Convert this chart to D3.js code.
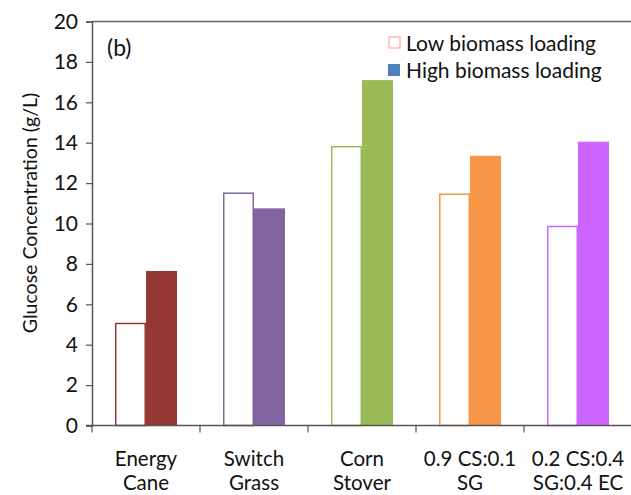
<!DOCTYPE html>
<html>
<head>
<meta charset="utf-8">
<script src="https://cdn.jsdelivr.net/npm/d3@7"></script>
<style>
  body { margin: 0; background: #fff; }
  svg text { font-family: Lato, "Open Sans", sans-serif; fill: #111; }
</style>
</head>
<body>
<svg id="chart" width="631" height="495"></svg>
<script>
// categories and values
const categories = [
  ["Energy", "Cane"],
  ["Switch", "Grass"],
  ["Corn", "Stover"],
  ["0.9 CS:0.1", "SG"],
  ["0.2 CS:0.4", "SG:0.4 EC"]
];
const lowLoading = [5.05, 11.5, 13.8, 11.45, 9.85];
const highLoading = [7.65, 10.75, 17.1, 13.35, 14.05];
const barColors = ["#953735", "#8064a2", "#9bbb59", "#f79646", "#cc66ff"];
const yTicks = [0, 2, 4, 6, 8, 10, 12, 14, 16, 18, 20];

const svg = d3.select('#chart');
const margin = { left: 92, top: 21.5, bottom: 425.5 };
const bandW = 108;

const x = d3.scaleBand()
    .domain(d3.range(categories.length))
    .range([margin.left, margin.left + bandW * categories.length])
    .paddingInner(0).paddingOuter(0);

const y = d3.scaleLinear()
    .domain([0, 20])
    .range([margin.bottom, margin.top]);

const barW = 31;

// top border line
svg.append('line')
    .attr('x1', margin.left).attr('x2', 631)
    .attr('y1', y(20)).attr('y2', y(20))
    .attr('stroke', '#666').attr('stroke-width', 1.5);

// bars
const g = svg.append('g');
categories.forEach((c, i) => {
    const cx = x(i) + x.bandwidth() / 2;
    g.append('rect')
        .attr('x', cx - barW + 0.75)
        .attr('y', y(lowLoading[i]))
        .attr('width', barW - 1.5)
        .attr('height', y(0) - y(lowLoading[i]))
        .attr('fill', '#fff')
        .attr('stroke', barColors[i])
        .attr('stroke-width', 1.5);
    g.append('rect')
        .attr('x', cx)
        .attr('y', y(highLoading[i]))
        .attr('width', barW)
        .attr('height', y(0) - y(highLoading[i]))
        .attr('fill', barColors[i]);
});

// y axis
const yAxis = svg.append('g')
    .attr('transform', `translate(${margin.left},0)`)
    .call(d3.axisLeft(y).tickValues(yTicks).tickSize(6).tickPadding(8));
yAxis.select('.domain').attr('stroke', '#555').attr('stroke-width', 1.5);
yAxis.selectAll('.tick line').attr('stroke', '#555').attr('stroke-width', 1.2);
yAxis.selectAll('.tick text')
    .style('font-size', '21px')
    .attr('fill', '#111');

// x axis: ticks at band boundaries
const xAxisG = svg.append('g');
xAxisG.append('line')
    .attr('x1', margin.left - 6).attr('x2', 631)
    .attr('y1', y(0)).attr('y2', y(0))
    .attr('stroke', '#555').attr('stroke-width', 1.5);
xAxisG.selectAll('line.tick')
    .data(d3.range(categories.length + 1))
    .enter().append('line')
    .attr('class', 'tick')
    .attr('x1', d => margin.left + d * x.step())
    .attr('x2', d => margin.left + d * x.step())
    .attr('y1', y(0)).attr('y2', y(0) + 7)
    .attr('stroke', '#555').attr('stroke-width', 1.2);

const labels = xAxisG.selectAll('text.cat')
    .data(categories)
    .enter().append('text')
    .attr('class', 'cat')
    .attr('text-anchor', 'middle')
    .style('font-size', '20.5px');
labels.each(function(d, i) {
    const t = d3.select(this);
    const cx = x(i) + x.bandwidth() / 2;
    d.forEach((line, j) => {
        t.append('tspan')
            .attr('x', cx)
            .attr('y', 466 + j * 24)
            .text(line);
    });
});

// y title
svg.append('text')
    .attr('transform', `translate(37,213) rotate(-90)`)
    .attr('text-anchor', 'middle')
    .style('font-size', '19.5px')
    .text('Glucose Concentration (g/L)');

// panel label
svg.append('text')
    .attr('x', 107).attr('y', 56)
    .style('font-size', '23px')
    .text('(b)');

// legend
const legend = svg.append('g');
legend.append('rect')
    .attr('x', 389).attr('y', 37).attr('width', 11).attr('height', 11)
    .attr('fill', '#fff').attr('stroke', '#ffb8c0').attr('stroke-width', 1.5);
legend.append('text')
    .attr('x', 406).attr('y', 51)
    .style('font-size', '21px')
    .text('Low biomass loading');
legend.append('rect')
    .attr('x', 388).attr('y', 64).attr('width', 12).attr('height', 12)
    .attr('fill', '#4f81bd');
legend.append('text')
    .attr('x', 406).attr('y', 78)
    .style('font-size', '21px')
    .text('High biomass loading');
</script>
</body>
</html>
